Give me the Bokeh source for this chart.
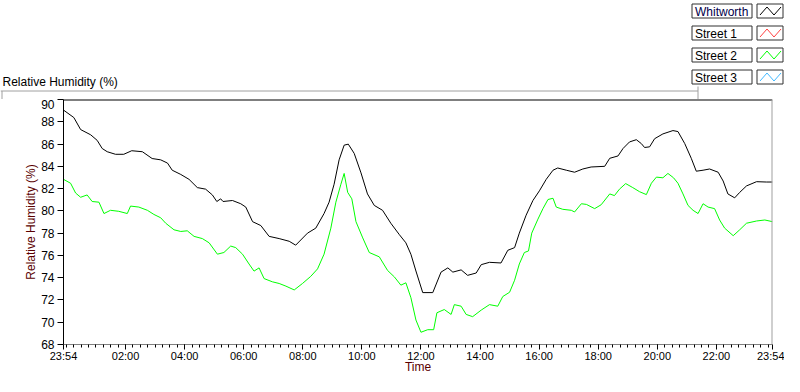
from bokeh.plotting import figure
from bokeh.models import Range1d, FixedTicker, Span
from bokeh.layouts import column, row
from bokeh.core.properties import value
from bokeh.embed import file_html
from bokeh.resources import INLINE

FONT = "Liberation Sans"

# ---- data (time in hours of day, start 23:54 of previous day = -0.1) ----
whit_t = [-0.1, 0.25, 0.48, 0.82, 1.04, 1.21, 1.38, 1.66, 1.94, 2.21, 2.57, 2.9, 3.19, 3.42, 3.58,
          3.87, 4.15, 4.43, 4.71, 4.94, 5.09, 5.22, 5.3, 5.62, 5.9, 6.07, 6.3, 6.58, 6.86, 7.2,
          7.54, 7.76, 8.16, 8.44, 8.72, 8.89, 9.06, 9.23, 9.4, 9.54, 9.74, 9.97, 10.19, 10.42,
          10.7, 10.98, 11.27, 11.49, 11.66, 11.83, 12.06, 12.4, 12.68, 12.91, 13.08, 13.36,
          13.58, 13.87, 14.04, 14.32, 14.71, 14.94, 15.17, 15.33, 15.56, 15.79, 16.01, 16.24,
          16.47, 16.63, 16.92, 17.2, 17.48, 17.76, 18.22, 18.39, 18.67, 18.84, 19.06, 19.29,
          19.46, 19.57, 19.74, 19.91, 20.19, 20.53, 20.7, 20.93, 21.15, 21.32, 21.55, 21.77,
          22.06, 22.23, 22.39, 22.62, 22.79, 23.02, 23.36, 23.69, 23.9]
whit_rh = [89.05, 88.38, 87.3, 86.83, 86.33, 85.6, 85.31, 85.08, 85.08, 85.4, 85.31, 84.7, 84.58,
           84.29, 83.65, 83.27, 82.83, 82.09, 81.95, 81.43, 80.84, 81.08, 80.84, 80.93, 80.64,
           80.34, 79.03, 78.68, 77.71, 77.51, 77.27, 76.92, 78.0, 78.45, 79.76, 80.78, 82.39,
           84.58, 85.9, 85.99, 85.16, 83.41, 81.52, 80.49, 80.05, 78.89, 77.86, 77.13, 76.1,
           74.6, 72.66, 72.66, 74.5, 74.88, 74.5, 74.7, 74.21, 74.42, 75.17, 75.38, 75.32,
           76.46, 76.7, 78.0, 79.61, 80.93, 81.8, 82.83, 83.65, 83.85, 83.65, 83.47, 83.76,
           83.94, 84.0, 84.72, 84.93, 85.6, 86.19, 86.39, 86.04, 85.69, 85.75, 86.48, 86.91,
           87.21, 87.12, 86.04, 84.72, 83.56, 83.65, 83.76, 83.47, 82.68, 81.52, 81.17, 81.66,
           82.24, 82.62, 82.59, 82.59]

st2_t = [-0.1, 0.14, 0.31, 0.48, 0.7, 0.87, 1.1, 1.27, 1.49, 1.77, 2.06, 2.17, 2.45, 2.74, 2.96,
         3.19, 3.36, 3.64, 3.87, 4.09, 4.32, 4.6, 4.83, 5.11, 5.33, 5.56, 5.73, 5.96, 6.18, 6.35,
         6.52, 6.69, 6.97, 7.2, 7.43, 7.71, 7.99, 8.27, 8.5, 8.72, 8.95, 9.12, 9.29, 9.4, 9.52,
         9.66, 9.8, 10.03, 10.25, 10.59, 10.87, 11.1, 11.32, 11.49, 11.66, 11.83, 12.0, 12.23,
         12.43, 12.54, 12.79, 13.02, 13.13, 13.36, 13.53, 13.75, 14.04, 14.32, 14.6, 14.77,
         15.0, 15.17, 15.33, 15.5, 15.64, 15.75, 15.96, 16.13, 16.3, 16.47, 16.58, 16.8, 17.09,
         17.2, 17.43, 17.6, 17.88, 18.1, 18.39, 18.55, 18.72, 18.93, 19.17, 19.4, 19.63, 19.8,
         19.97, 20.19, 20.36, 20.55, 20.7, 20.87, 21.04, 21.21, 21.38, 21.55, 21.72, 21.94,
         22.11, 22.28, 22.57, 22.79, 23.02, 23.36, 23.64, 23.9]
st2_rh = [82.83, 82.48, 81.6, 81.22, 81.43, 80.84, 80.78, 79.76, 80.05, 79.96, 79.76, 80.43, 80.34,
          80.05, 79.68, 79.38, 78.89, 78.3, 78.15, 78.21, 77.71, 77.51, 77.13, 76.11, 76.26,
          76.84, 76.7, 76.11, 75.23, 74.59, 74.88, 73.92, 73.63, 73.48, 73.24, 72.9, 73.48,
          74.12, 74.79, 76.11, 78.45, 80.78, 82.39, 83.36, 81.66, 81.08, 79.03, 77.57, 76.26,
          75.87, 74.65, 74.07, 73.33, 73.54, 72.2, 70.2, 69.1, 69.33, 69.33, 70.85, 71.14,
          70.7, 71.58, 71.44, 70.7, 70.5, 71.09, 71.58, 71.44, 72.31, 72.69, 73.77, 75.23,
          76.26, 76.4, 78.0, 79.26, 80.2, 81.02, 81.13, 80.34, 80.14, 80.05, 79.9, 80.64,
          80.58, 80.2, 80.55, 81.52, 81.37, 81.95, 82.45, 82.09, 81.72, 81.46, 82.48, 83.03,
          82.97, 83.36, 82.97, 82.48, 81.52, 80.49, 80.05, 79.76, 80.64, 80.34, 80.2, 79.18,
          78.45, 77.77, 78.3, 78.89, 79.09, 79.18, 79.03]

# ticks in minutes of day
x_ticks = [-6, 120, 240, 360, 480, 600, 720, 840, 960, 1080, 1200, 1320, 1434]
x_tick_labels = ["23:54", "02:00", "04:00", "06:00", "08:00", "10:00", "12:00",
                 "14:00", "16:00", "18:00", "20:00", "22:00", "23:54"]
x_minor = list(range(0, 1440, 15))
y_ticks = [68, 70, 72, 74, 76, 78, 80, 82, 84, 86, 88, 90]

title_text = "Relative Humidity (%)"
legend_names = ["Whitworth", "Street 1", "Street 2", "Street 3"]
legend_colors = ["#000000", "#ff4040", "#00ff00", "#40b8ff"]
legend_text_colors = ["#00004a", "#000000", "#000000", "#000000"]

AXIS_LABEL_COLOR = "#5a0000"
W = 784
HEAD_H = 99

# ---------------- header: title + legend (pixel coordinate system) ----------------
head = figure(width=W, height=HEAD_H, x_range=Range1d(0, W), y_range=Range1d(HEAD_H, 0),
              output_backend="svg", toolbar_location=None, min_border=0,
              x_axis_type=None, y_axis_type=None)
head.grid.visible = False
head.outline_line_color = None
head.background_fill_color = "white"
head.border_fill_color = "white"

head.text(x=[2], y=[81], text=[title_text], text_font=value(FONT), text_font_size="12px",
          text_color="#000000", text_baseline="middle", text_align="left")

# panel separator lines
head.line(x=[0, 697.5], y=[90.5, 90.5], line_color="#a0a0a0", line_width=1)
head.line(x=[697.5, 697.5], y=[86, HEAD_H], line_color="#a0a0a0", line_width=1)
head.line(x=[1.5, 1.5], y=[90.5, HEAD_H], line_color="#a0a0a0", line_width=1)

tops = [3.5 + 22 * i for i in range(len(legend_names))]
bots = [t + 14 for t in tops]
tb_l, tb_r = 691.5, 751.5
sb_l, sb_r = 756.5, 782.5
head.quad(left=[tb_l] * 4, right=[tb_r] * 4, top=tops, bottom=bots,
          fill_color="white", line_color="#303030", line_width=1)
head.quad(left=[sb_l] * 4, right=[sb_r] * 4, top=tops, bottom=bots,
          fill_color="white", line_color="#303030", line_width=1)
head.text(x=[tb_l + 3] * 4, y=[t + 7.5 for t in tops], text=legend_names,
          text_font=value(FONT), text_font_size="12px", text_color=legend_text_colors,
          text_baseline="middle", text_align="left")
zx = [[sb_l + 3, sb_l + 10, sb_l + 17, sb_l + 24] for _ in tops]
zy = [[t + 11, t + 3, t + 11, t + 3] for t in tops]
head.multi_line(xs=zx, ys=zy, line_color=legend_colors, line_width=1)

# ---------------- main chart ----------------
p = figure(width=W, height=376 - HEAD_H, x_range=Range1d(-6, 1434), y_range=Range1d(68, 90),
           output_backend="svg", toolbar_location=None,
           min_border_left=63, min_border_right=12, min_border_top=0, min_border_bottom=26)
p.grid.visible = False
p.outline_line_color = None
p.background_fill_color = "white"
p.border_fill_color = "white"

p.line([t * 60 for t in whit_t], whit_rh, color="#000000", line_width=1)
p.line([t * 60 for t in st2_t], st2_rh, color="#00ff00", line_width=1)

p.add_layout(Span(location=90, dimension="width", line_color="#000000", line_width=2))
p.add_layout(Span(location=1434, dimension="height", line_color="#a0a0a0", line_width=2))

xa = p.xaxis[0]
xa.ticker = FixedTicker(ticks=x_ticks, minor_ticks=x_minor)
xa.major_label_overrides = {t: l for t, l in zip(x_ticks, x_tick_labels)}
xa.major_tick_out = 5
xa.major_tick_in = 0
xa.minor_tick_out = 3
xa.minor_tick_in = 0
xa.major_tick_line_color = "black"
xa.minor_tick_line_color = "black"
xa.axis_line_color = "#808080"
xa.major_label_standoff = 0
xa.major_label_text_font = FONT
xa.major_label_text_font_size = "11px"
xa.major_label_text_color = "#000000"
xa.axis_label = "Time"
xa.axis_label_text_font = FONT
xa.axis_label_text_font_size = "12px"
xa.axis_label_text_font_style = "normal"
xa.axis_label_text_color = AXIS_LABEL_COLOR
xa.axis_label_standoff = -5

ya = p.yaxis[0]
ya.ticker = FixedTicker(ticks=y_ticks)
ya.minor_tick_line_color = None
ya.major_tick_out = 6
ya.major_tick_in = 0
ya.axis_line_color = "black"
ya.major_label_standoff = 3
ya.major_label_text_font = FONT
ya.major_label_text_font_size = "12px"
ya.major_label_text_color = "#000000"
ya.axis_label = "Relative Humidity (%)"
ya.axis_label_text_font = FONT
ya.axis_label_text_font_size = "12px"
ya.axis_label_text_font_style = "normal"
ya.axis_label_text_color = AXIS_LABEL_COLOR
ya.axis_label_standoff = 0

layout = column(row(head), p, spacing=0)
open("out.html", "w").write(file_html(layout, INLINE))
